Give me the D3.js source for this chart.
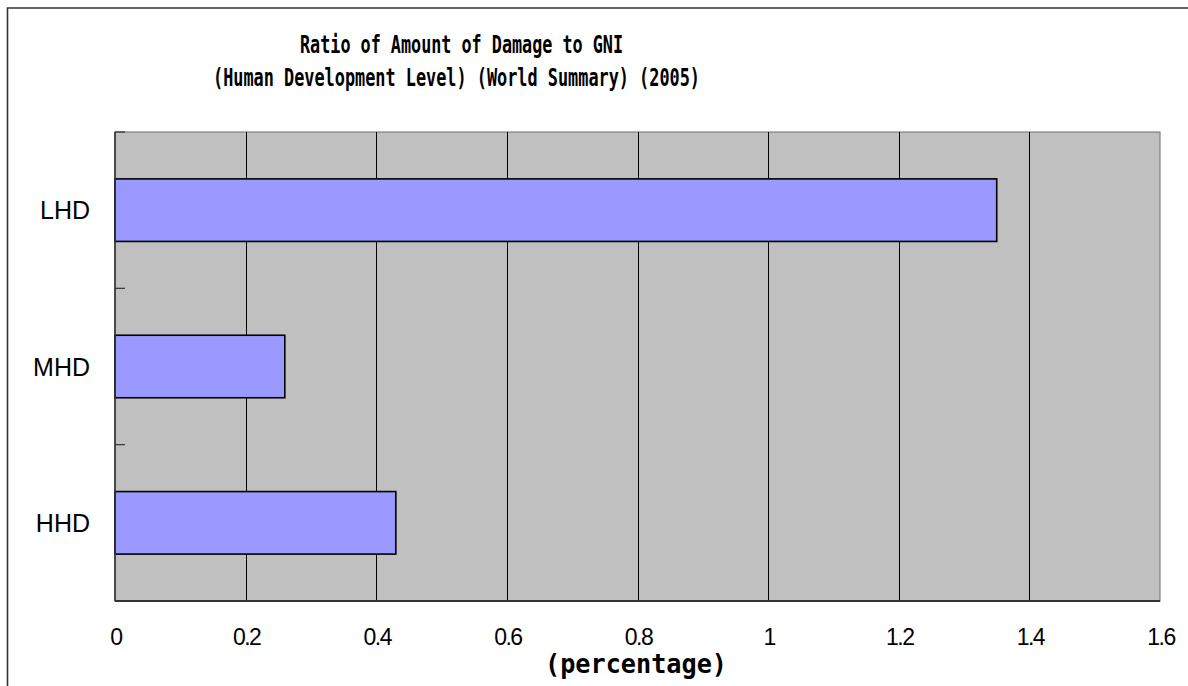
<!DOCTYPE html>
<html>
<head>
<meta charset="utf-8">
<script src="https://cdn.jsdelivr.net/npm/d3@7"></script>
<style>
  body { margin: 0; background: #fff; }
  svg { display: block; }
</style>
</head>
<body>
<div id="chart"></div>
<script>
// data
var categories = ["LHD", "MHD", "HHD"];
var values = [1.35, 0.26, 0.43];
var xTicks = [0, 0.2, 0.4, 0.6, 0.8, 1, 1.2, 1.4, 1.6];
var titleLines = ["Ratio of Amount of Damage to GNI", "(Human Development Level) (World Summary) (2005)"];
var xTitle = "(percentage)";

var W = 1188, H = 686;
var plot = {left: 115, right: 1160, top: 132, bottom: 601};

var svg = d3.select("#chart")
    .append("svg")
    .attr("width", W)
    .attr("height", H);

// outer chart border (cut off at right and bottom like the reference)
svg.append("path")
    .attr("d", "M7.5," + (H + 2) + " V8 H" + (W + 2))
    .attr("fill", "none")
    .attr("stroke", "#333")
    .attr("stroke-width", 1.6);

var x = d3.scaleLinear()
    .domain([0, 1.6])
    .range([plot.left, plot.right]);

var y = d3.scaleBand()
    .domain(categories)
    .range([plot.top, plot.bottom])
    .paddingInner(0.6)
    .paddingOuter(0.3);

// plot background
svg.append("rect")
    .attr("x", plot.left)
    .attr("y", plot.top)
    .attr("width", plot.right - plot.left)
    .attr("height", plot.bottom - plot.top)
    .attr("fill", "#c0c0c0")
    .attr("stroke", "#808080")
    .attr("stroke-width", 1.2);

// vertical gridlines
svg.append("g")
    .selectAll("line")
    .data(xTicks.filter(function(d) { return d > 0 && d < 1.6; }))
    .enter()
    .append("line")
    .attr("x1", function(d) { return Math.round(x(d)) + 0.5; })
    .attr("x2", function(d) { return Math.round(x(d)) + 0.5; })
    .attr("y1", plot.top)
    .attr("y2", plot.bottom)
    .attr("stroke", "#000")
    .attr("stroke-width", 1);

// bars
svg.append("g")
    .selectAll("rect")
    .data(categories)
    .enter()
    .append("rect")
    .attr("x", x(0))
    .attr("y", function(d) { return y(d); })
    .attr("width", function(d, i) { return x(values[i]) - x(0); })
    .attr("height", y.bandwidth())
    .attr("fill", "#9999ff")
    .attr("stroke", "#000")
    .attr("stroke-width", 1.6);

// y axis line and inward ticks between categories
var bounds = [plot.top].concat(categories.map(function(d) { return y(d) - y.step() * y.paddingOuter() + y.step(); }));
svg.append("g")
    .selectAll("line")
    .data(bounds)
    .enter()
    .append("line")
    .attr("x1", plot.left)
    .attr("x2", plot.left + 10)
    .attr("y1", function(d) { return d; })
    .attr("y2", function(d) { return d; })
    .attr("stroke", "#333")
    .attr("stroke-width", 1.2);

svg.append("line")
    .attr("x1", plot.left).attr("x2", plot.left)
    .attr("y1", plot.top).attr("y2", plot.bottom)
    .attr("stroke", "#333")
    .attr("stroke-width", 1.6);

// x axis line
svg.append("line")
    .attr("x1", plot.left).attr("x2", plot.right)
    .attr("y1", plot.bottom).attr("y2", plot.bottom)
    .attr("stroke", "#333")
    .attr("stroke-width", 2);

// category labels
svg.append("g")
    .selectAll("text")
    .data(categories)
    .enter()
    .append("text")
    .attr("x", 90)
    .attr("y", function(d) { return y(d) + y.bandwidth() / 2; })
    .attr("dy", "0.36em")
    .attr("text-anchor", "end")
    .attr("font-family", "Liberation Sans, Arial, sans-serif")
    .attr("font-size", "25px")
    .attr("fill", "#000")
    .text(function(d) { return d; });

// x tick labels
svg.append("g")
    .selectAll("text")
    .data(xTicks)
    .enter()
    .append("text")
    .attr("x", function(d) { return x(d) + 1; })
    .attr("y", 645)
    .attr("text-anchor", "middle")
    .attr("font-family", "Liberation Sans, Arial, sans-serif")
    .attr("font-size", "23px")
    .attr("letter-spacing", "-1.5px")
    .attr("fill", "#000")
    .text(function(d) { return d3.format("")(d); });

// title
var titleX = [461.5, 456.5], titleY = [53, 86], titleLen = [323, 487];
svg.append("g")
    .selectAll("text")
    .data(titleLines)
    .enter()
    .append("text")
    .attr("x", function(d, i) { return titleX[i]; })
    .attr("y", function(d, i) { return titleY[i]; })
    .attr("text-anchor", "middle")
    .attr("font-family", "DejaVu Sans Mono, monospace")
    .attr("font-weight", "bold")
    .attr("font-size", "25px")
    .attr("textLength", function(d, i) { return titleLen[i]; })
    .attr("lengthAdjust", "spacingAndGlyphs")
    .attr("fill", "#000")
    .text(function(d) { return d; });

// x axis title
svg.append("text")
    .attr("x", 636)
    .attr("y", 673)
    .attr("text-anchor", "middle")
    .attr("font-family", "DejaVu Sans Mono, monospace")
    .attr("font-weight", "bold")
    .attr("font-size", "26px")
    .attr("textLength", 182)
    .attr("lengthAdjust", "spacingAndGlyphs")
    .attr("fill", "#000")
    .text(xTitle);
</script>
</body>
</html>
